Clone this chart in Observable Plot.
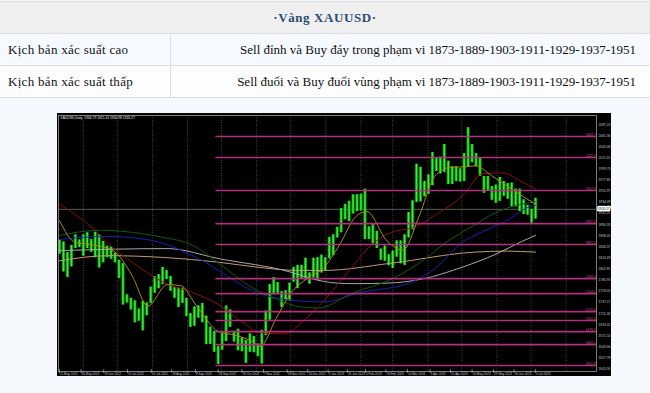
<!DOCTYPE html>
<html><head><meta charset="utf-8">
<script src="https://cdn.jsdelivr.net/npm/d3@7"></script>
<script src="https://cdn.jsdelivr.net/npm/@observablehq/plot@0.6"></script>
<style>
html,body{margin:0;padding:0;}
body{width:650px;height:393px;overflow:hidden;background:#f5f8fc;position:relative;font-family:"Liberation Serif","Times New Roman",serif;}
table{position:absolute;left:0;top:1px;width:650px;border-collapse:collapse;font-size:13px;color:#111;}
td{border-top:1px solid #dedede;border-bottom:1px solid #dedede;padding:0;height:31px;}
tr.h td{background:#efefef;text-align:center;color:#2c4c74;font-weight:bold;letter-spacing:0.6px;}
tr.r1 td{background:#f6f9ff;}
tr.r2 td{background:#fdfdfd;}
td.l{width:162px;padding-left:8px;border-right:1px solid #dedede;letter-spacing:0.3px;}
td.r{text-align:right;padding-right:14px;}
#chart{position:absolute;left:57px;top:113px;width:554px;height:263px;background:#000;}
</style></head>
<body>
<table>
<tr class="h"><td colspan="2" id="title"></td></tr>
<tr class="r1"><td class="l" id="k1"></td><td class="r" id="v1"></td></tr>
<tr class="r2"><td class="l" id="k2"></td><td class="r" id="v2"></td></tr>
</table>
<div id="chart"></div>
<script>
// ---- table texts ----
const tableTitle = "·Vàng  XAUUSD·";
const scenarioNames = ["Kịch bản xác suất cao", "Kịch bản xác suất thấp"];
const scenarioTexts = [
  "Sell đỉnh và Buy đáy trong phạm vi 1873-1889-1903-1911-1929-1937-1951",
  "Sell đuổi và Buy đuổi vùng phạm vi 1873-1889-1903-1911-1929-1937-1951"
];
document.getElementById("title").textContent = tableTitle;
document.getElementById("k1").textContent = scenarioNames[0];
document.getElementById("k2").textContent = scenarioNames[1];
document.getElementById("v1").textContent = scenarioTexts[0];
document.getElementById("v2").textContent = scenarioTexts[1];

// ---- chart data (XAUUSD daily, half-week ranges from 11 May 2022) ----
const chartTitle = "XAUUSD,Daily  1906.79 1921.41 1900.98 1920.27";
const firstBar = "2022-05-11";
const barStepDays = 3.5;
const barLows = [1832,1797, 1786,1807, 1843,1845, 1828,1843, 1836,1825, 1805,1815, 1825,1822, 1815,1784,
  1732,1736, 1722,1697, 1700,1681, 1711,1735, 1755,1764, 1772,1782, 1759,1745, 1727,1735, 1709,1688,
  1690,1706, 1697,1654, 1654,1639, 1615,1643, 1660,1688, 1659,1642, 1640,1617, 1639,1638, 1630,1616,
  1672,1702, 1752,1755, 1727,1742, 1740,1777, 1764,1783, 1781,1773, 1785,1780, 1795,1799,
  1823,1829, 1864,1874, 1900,1896, 1911,1916, 1917,1861, 1861,1852, 1843,1820, 1818,1809, 1804,1826,
  1813,1810, 1864,1880, 1934,1935, 1945,1950, 1967,1995, 1990,1993, 1969,1969, 1975,1974, 1975,2004,
  2012,2004, 1985,1952, 1956,1938, 1932,1936, 1946,1940, 1925,1925, 1916,1910, 1909,1893, 1901];
const barHighs = [1860,1856, 1835,1849, 1870,1860, 1870,1874, 1861,1875, 1870,1857, 1848,1846, 1834,1820,
  1813,1752, 1745,1740, 1724,1739, 1736,1767, 1788,1792, 1806,1800, 1788,1766, 1765,1765, 1745,1715,
  1728,1730, 1735,1710, 1688,1680, 1650,1676, 1730,1722, 1680,1684, 1667,1662, 1675,1670, 1655,1682,
  1720,1772, 1786,1776, 1758,1760, 1775,1806, 1810,1810, 1824,1795, 1824,1825, 1830,1825,
  1865,1870, 1885,1922, 1930,1936, 1949,1949, 1950,1960, 1886,1890, 1877,1842, 1848,1831, 1838,1858,
  1858,1870, 1914,1937, 2009,2003, 1975,1988, 2032,2022, 2023,2048, 2015,2004, 2004,2000, 2030,2081,
  2048,2030, 2022,1985, 1985,1965, 1968,1983, 1975,1971, 1972,1960, 1960,1939, 1928,1920, 1942];
const lastPrice = 1920.27;

// moving averages [date, price]
const maFast = [["2022-05-11",1898],["2022-05-25",1855],["2022-06-10",1850],["2022-06-28",1838],["2022-07-14",1790],["2022-07-28",1730],["2022-08-14",1772],["2022-08-26",1770],["2022-09-09",1730],["2022-09-28",1680],["2022-10-14",1672],["2022-10-28",1660],["2022-11-04",1650],["2022-11-18",1705],["2022-12-01",1755],["2022-12-16",1785],["2022-12-30",1805],["2023-01-13",1850],["2023-01-27",1905],["2023-02-06",1916],["2023-02-24",1858],["2023-03-10",1840],["2023-03-24",1905],["2023-04-07",1985],["2023-04-21",2003],["2023-05-05",2004],["2023-05-13",2006],["2023-05-27",1987],["2023-06-14",1960],["2023-07-05",1930]];
const maRed = [["2022-05-11",1930],["2022-06-03",1895],["2022-06-12",1878],["2022-06-21",1857],["2022-07-15",1815],["2022-08-12",1775],["2022-09-05",1757],["2022-09-28",1733],["2022-10-20",1697],["2022-11-05",1677],["2022-11-25",1675],["2022-12-12",1700],["2022-12-30",1740],["2023-01-20",1795],["2023-02-10",1850],["2023-02-28",1875],["2023-03-20",1885],["2023-04-07",1908],["2023-05-02",1948],["2023-05-19",1990],["2023-06-06",1992],["2023-06-21",1977],["2023-07-05",1960]];
const maGreen = [["2022-05-11",1869],["2022-06-15",1879],["2022-07-05",1877],["2022-08-08",1866],["2022-09-05",1850],["2022-10-01",1810],["2022-10-25",1770],["2022-11-20",1742],["2022-12-10",1728],["2022-12-26",1726],["2023-01-23",1754],["2023-03-01",1784],["2023-03-30",1823],["2023-04-17",1855],["2023-05-11",1888],["2023-05-31",1914],["2023-06-18",1928],["2023-07-05",1935]];
const maBlue = [["2022-05-11",1861],["2022-06-21",1867],["2022-07-11",1865],["2022-08-08",1855],["2022-09-10",1824],["2022-11-03",1755],["2022-12-02",1741],["2022-12-30",1738],["2023-02-01",1757],["2023-03-14",1774],["2023-04-03",1797],["2023-05-04",1859],["2023-05-25",1882],["2023-06-12",1901],["2023-06-28",1924],["2023-07-05",1928]];
const maGray = [["2022-05-11",1839],["2022-08-14",1843],["2022-09-29",1823],["2022-12-02",1796],["2022-12-19",1784],["2023-01-11",1775],["2023-01-27",1774],["2023-02-24",1775],["2023-03-29",1784],["2023-04-27",1803],["2023-06-01",1833],["2023-06-22",1856],["2023-07-05",1869]];
const maTan = [["2022-05-11",1819],["2022-06-23",1829],["2022-09-29",1816],["2022-11-03",1806],["2022-12-08",1800],["2022-12-30",1800],["2023-02-27",1814],["2023-05-12",1836],["2023-06-10",1838],["2023-07-05",1836]];

// horizontal support / resistance levels (magenta)
const levelStart = "2022-09-26";
const levels = [2063.7, 2022.3, 1957.3, 1892.3, 1851.0, 1784.0, 1754.5, 1719.0, 1701.4, 1679.7, 1654.1, 1612.8];

// axis tick labels
const priceTicks = [1605.90,1627.78,1649.66,1671.54,1693.42,1715.30,1737.17,1759.05,1780.93,1802.81,1824.69,1846.57,1868.45,1890.33,1912.21,1934.09,1955.97,1977.85,1999.73,2021.61,2043.48,2065.36,2087.24];
const dateLabels = ["11 May 2022","30 May 2022","19 Jun 2022","10 Jul 2022","31 Jul 2022","18 Aug 2022","8 Sep 2022","28 Sep 2022","19 Oct 2022","7 Nov 2022","28 Nov 2022","16 Dec 2022","3 Jan 2023","20 Jan 2023","5 Feb 2023","23 Feb 2023","14 Mar 2023","3 Apr 2023","21 Apr 2023","10 May 2023","29 May 2023","16 Jun 2023","5 Jul 2023"];

// ---- build ----
const parse = d3.utcParse("%Y-%m-%d");
const parseLabel = d3.utcParse("%d %b %Y");
const t0 = parse(firstBar).getTime();
const bars = barLows.map((lo, i) => ({date: new Date(t0 + i * barStepDays * 864e5), lo, hi: barHighs[i]}));
const toPts = (arr) => arr.map(([d, v]) => ({date: parse(d), v}));
const xStart = new Date("2022-05-10T03:00:00Z");
const xEnd = new Date("2023-08-27T19:00:00Z");
const months = d3.utcMonth.range(xStart, xEnd);
const labelDates = dateLabels.map(parseLabel);
const gridCol = "#5c5c5c";
const axisCol = "#c4c4c4";
const fs = 3.1;

const chart = Plot.plot({
  width: 554, height: 263,
  marginLeft: 1, marginRight: 15, marginTop: 2, marginBottom: 5,
  style: {background: "#000", color: axisCol, fontFamily: "Liberation Sans", overflow: "visible"},
  x: {type: "utc", domain: [xStart, xEnd], axis: null},
  y: {domain: [1601, 2105], axis: null},
  marks: [
    Plot.ruleX(months, {stroke: gridCol, strokeDasharray: "1,1.5", strokeWidth: 0.8}),
    Plot.ruleY([lastPrice], {stroke: "#707070", strokeWidth: 0.8}),
    Plot.ruleX(bars, {x: "date", y1: "lo", y2: "hi", stroke: "#0d8a0d", strokeWidth: 3.2}),
    Plot.ruleX(bars, {x: "date", y1: "lo", y2: "hi", stroke: "#33f033", strokeWidth: 1.5}),
    Plot.line(toPts(maTan), {x: "date", y: "v", stroke: "#c49a72", strokeWidth: 1, curve: "monotone-x"}),
    Plot.line(toPts(maGray), {x: "date", y: "v", stroke: "#a8a8a8", strokeWidth: 1, curve: "monotone-x"}),
    Plot.line(toPts(maBlue), {x: "date", y: "v", stroke: "#1822b0", strokeWidth: 1, curve: "monotone-x"}),
    Plot.line(toPts(maGreen), {x: "date", y: "v", stroke: "#0b5e0b", strokeWidth: 1, curve: "monotone-x"}),
    Plot.line(toPts(maRed), {x: "date", y: "v", stroke: "#8e0e0e", strokeWidth: 1, curve: "monotone-x"}),
    Plot.line(toPts(maFast), {x: "date", y: "v", stroke: "#a88e10", strokeWidth: 1, curve: "monotone-x"}),
    Plot.ruleY(levels, {y: d => d, x1: parse(levelStart), x2: xEnd, stroke: "#b42f7d", strokeWidth: 1.7}),
    Plot.text(levels, {y: d => d, x: xEnd, text: d => d.toFixed(1), textAnchor: "end", dx: -1, dy: -2, fontSize: 3.2, fill: "#d0509a"}),
    Plot.frame({stroke: "#9a9a9a", strokeWidth: 0.8}),
    Plot.text(priceTicks, {y: d => d, frameAnchor: "right", text: d => d.toFixed(2), textAnchor: "start", dx: 2, fontSize: 3.3, fill: axisCol}),
    Plot.text(labelDates, {x: d => d, frameAnchor: "bottom", text: (d, i) => dateLabels[i], textAnchor: "start", lineAnchor: "top", dx: 0.5, dy: 1, fontSize: fs, fill: axisCol}),
    Plot.tickX(labelDates, {x: d => d, y: null, stroke: axisCol, strokeWidth: 0.6, insetTop: 254, insetBottom: -2}),
    Plot.text([chartTitle], {frameAnchor: "top-left", text: d => d, textAnchor: "start", lineAnchor: "top", dx: 2, dy: 1.5, fontSize: 3.3, fill: "#e8e8e8"}),
    Plot.text([lastPrice], {y: d => d, frameAnchor: "right", text: d => d.toFixed(2), textAnchor: "start", dx: 1.5, fontSize: 3.3, fill: "#000", stroke: "#fff", strokeWidth: 2.6, paintOrder: "stroke"})
  ]
});
document.getElementById("chart").appendChild(chart);
</script>
</body></html>
